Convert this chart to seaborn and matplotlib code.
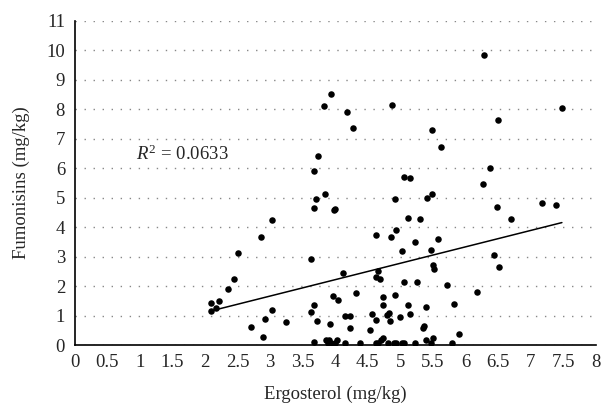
import matplotlib
matplotlib.use("Agg")
import matplotlib.pyplot as plt
import pandas as pd
import seaborn as sns

# Ergosterol (mg/kg) and fumonisins (mg/kg)
ergosterol = [
    2.09, 2.22, 2.17, 2.09, 2.35, 2.44, 2.51, 2.70, 2.86, 2.89,
    2.92, 3.03, 3.03, 3.25, 3.63, 3.67, 3.62, 3.72, 3.67, 3.67,
    3.67, 3.71, 3.74, 3.82, 3.85, 3.94, 3.98, 3.99, 3.96, 4.04,
    3.92, 3.86, 3.90, 3.93, 3.89, 4.03, 4.00, 4.15, 4.15, 4.23,
    4.22, 4.12, 4.18, 4.27, 4.32, 4.38, 4.53, 4.56, 4.63, 4.62,
    4.66, 4.63, 4.65, 4.63, 4.68, 4.74, 4.73, 4.73, 4.70, 4.80,
    4.82, 4.84, 4.81, 4.86, 4.87, 4.91, 4.92, 4.94, 4.90, 4.93,
    5.00, 5.02, 5.03, 5.06, 5.06, 5.06, 5.11, 5.12, 5.15, 5.15,
    5.22, 5.23, 5.25, 5.30, 5.36, 5.35, 5.40, 5.40, 5.41, 5.47,
    5.47, 5.48, 5.48, 5.50, 5.51, 5.50, 5.57, 5.62, 5.72, 5.80,
    5.82, 5.90, 6.17, 6.27, 6.28, 6.38, 6.44, 6.48, 6.50, 6.51,
    6.70, 7.18, 7.39, 7.48,
]
fumonisins = [
    1.42, 1.49, 1.27, 1.17, 1.89, 2.24, 3.13, 0.61, 3.68, 0.27,
    0.88, 4.24, 1.20, 0.79, 2.91, 1.37, 1.11, 0.83, 0.12, 4.64,
    5.91, 4.96, 6.41, 8.12, 5.14, 8.51, 4.58, 4.62, 1.67, 1.54,
    0.71, 0.16, 0.16, 0.09, 0.08, 0.19, 0.09, 0.08, 0.99, 0.98,
    0.59, 2.44, 7.90, 7.36, 1.76, 0.08, 0.51, 1.06, 0.85, 0.08,
    0.09, 3.74, 2.50, 2.32, 2.26, 1.65, 1.37, 0.25, 0.17, 1.03,
    1.10, 0.83, 0.08, 3.66, 8.16, 4.95, 1.69, 3.89, 0.08, 0.08,
    0.95, 3.18, 0.08, 0.08, 5.70, 2.14, 1.35, 4.31, 5.66, 1.05,
    3.49, 0.08, 2.14, 4.28, 0.65, 0.58, 1.28, 0.16, 4.98, 0.08,
    3.23, 5.14, 7.29, 2.72, 2.57, 0.25, 3.59, 6.73, 2.03, 0.08,
    1.38, 0.37, 1.82, 5.46, 9.85, 6.01, 3.05, 4.69, 7.65, 2.64,
    4.27, 4.83, 4.74, 8.04,
]
r2_label = "0.0633"
x_ticks = [0, 0.5, 1, 1.5, 2, 2.5, 3, 3.5, 4, 4.5, 5, 5.5, 6, 6.5, 7, 7.5, 8]
y_ticks = list(range(0, 12))

df = pd.DataFrame({"ergosterol": ergosterol, "fumonisins": fumonisins})

sns.set_style("white")
plt.rcParams["font.family"] = ["Liberation Serif", "DejaVu Serif"]
plt.rcParams["mathtext.fontset"] = "custom"
plt.rcParams["mathtext.rm"] = "Liberation Serif"
plt.rcParams["mathtext.it"] = "Liberation Serif:italic"

fig = plt.figure(figsize=(6.03, 4.08), dpi=100)
ax = fig.add_axes([0.124, 0.154, 0.864, 0.795])

sns.regplot(data=df, x="ergosterol", y="fumonisins", ci=None, ax=ax,
            scatter_kws={"s": 22, "color": "black", "alpha": 1,
                         "linewidths": 0, "zorder": 3},
            line_kws={"color": "black", "linewidth": 1.1, "zorder": 2})

ax.set_xlim(0, 8)
ax.set_ylim(0, 11)
ax.set_xticks(x_ticks)
ax.set_xticklabels([f"{t:g}" for t in x_ticks])
ax.set_yticks(y_ticks)
ax.yaxis.grid(True, color="#888888", linestyle=(0, (1, 5.5)), linewidth=1.0)
ax.xaxis.grid(False)
ax.set_axisbelow(True)

sns.despine(ax=ax)
for side in ("left", "bottom"):
    ax.spines[side].set_color("black")
    ax.spines[side].set_linewidth(1.2)

ax.tick_params(axis="x", direction="in", length=4, width=1, labelsize=13.5, pad=6, color="black")
ax.tick_params(axis="y", direction="out", length=4, width=1, labelsize=13.5, pad=3, color="black")

ax.set_xlabel("Ergosterol (mg/kg)", fontsize=13.5, labelpad=11)
ax.set_ylabel("Fumonisins (mg/kg)", fontsize=13.5, labelpad=12)

ax.text(0.94, 6.47, r"$R^2$ = " + r2_label, fontsize=13.5, va="center", ha="left")

fig.savefig("out.png", dpi=100)
plt.close(fig)
